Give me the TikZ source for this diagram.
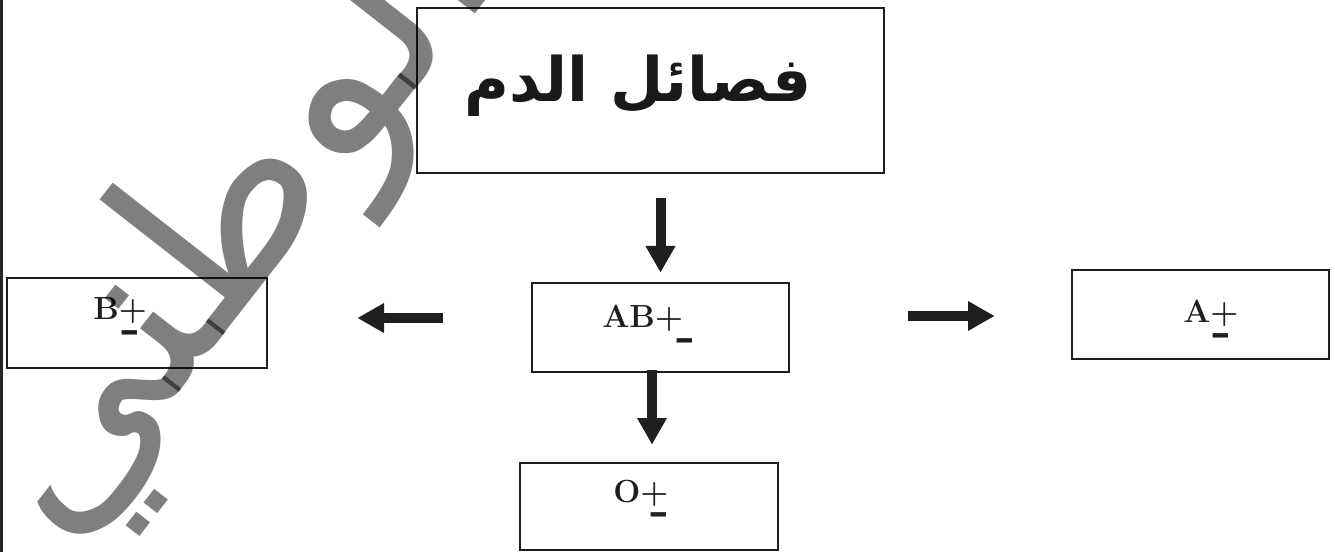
\documentclass[tikz,border=0pt]{standalone}
\usepackage{fontspec}
\newfontfamily\arabicfont[Script=Arabic]{DejaVu Sans}
\TeXXeTstate=1
\usetikzlibrary{arrows.meta}
\newcommand{\pmsign}[1]{+\makebox[0pt][l]{\hspace*{#1}\raisebox{-0.72em}{\scalebox{1.6}[1.5]{-}}}}
\begin{document}
\begin{tikzpicture}[x=0.75pt,y=-0.75pt,
  boxstyle/.style={draw=black!88, line width=2pt, inner sep=0pt},
  lbl/.style={font=\bfseries\fontsize{24}{28}\selectfont, text=black!88, inner sep=0pt, anchor=base west},
  bigarrow/.style={draw=black!88, line width=7.5pt, -{Triangle[length=20pt,width=21pt]}}]
\useasboundingbox (0,0) rectangle (1335,552);
\clip (0,0) rectangle (1335,552);
\fill[white] (0,0) rectangle (1335,552);
% left border
\draw[draw=black!85, line width=2pt] (1.5,0) -- (1.5,552);
% boxes
\node[boxstyle, minimum width=350.25pt, minimum height=123.75pt] (top) at (650.5,90.5) {};
\node[boxstyle, minimum width=192.75pt, minimum height=66.75pt] (AB) at (660.5,327.5) {};
\node[boxstyle, minimum width=195pt, minimum height=67.5pt] (B) at (137,323) {};
\node[boxstyle, minimum width=192.75pt, minimum height=66.75pt] (A) at (1200.5,314.5) {};
\node[boxstyle, minimum width=193.5pt, minimum height=65.25pt] (O) at (649,506.5) {};
% texts
\node[font=\arabicfont\bfseries\fontsize{46}{52}\selectfont, text=black!90, inner sep=0pt] (title) at (638,86) {\beginR فصائل الدم\endR};
\node[lbl] (Blbl) at (93,320) {B\pmsign{-0.8em}};
\node[lbl] (ABlbl) at (602,328) {AB\pmsign{-0.2em}};
\node[lbl] (Albl) at (1183,323) {A\pmsign{-0.8em}};
\node[lbl] (Olbl) at (613,502) {O\pmsign{-0.55em}};
% arrows
\coordinate (ly) at (0,318);
\coordinate (ry) at (0,316);
\coordinate (bx) at (652,0);
\draw[bigarrow, shorten <=18pt, shorten >=6.75pt] (AB.north |- top.south) -- (AB.north);
\draw[bigarrow, shorten <=66pt, shorten >=66.75pt] (AB.west |- ly) -- (B.east |- ly);
\draw[bigarrow, shorten <=88.5pt, shorten >=57pt] (AB.east |- ry) -- (A.west |- ry);
\draw[bigarrow, shorten <=-2.25pt, shorten >=12.75pt] (AB.south -| bx) -- (O.north -| bx);
% watermark
\node[rotate=52, opacity=0.5, text opacity=0.5, text=black, inner sep=0pt, font=\arabicfont\fontsize{178}{190}\selectfont] (wm) at (232,225) {\beginR الوطني\endR};
\end{tikzpicture}
\end{document}
